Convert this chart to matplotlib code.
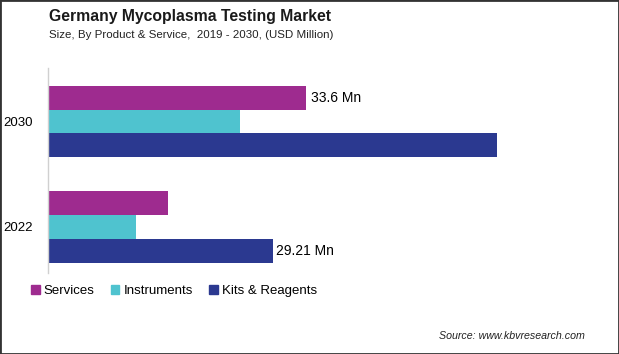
import matplotlib
matplotlib.use("Agg")
import matplotlib.pyplot as plt
from matplotlib.patches import Rectangle, Patch

plt.rcParams['font.family'] = ['Liberation Sans', 'DejaVu Sans']

years = ["2022", "2030"]
segments = ["Services", "Instruments", "Kits & Reagents"]
services = [15.6, 33.6]
instruments = [11.4, 25.0]
kits = [29.21, 58.4]
colors = ["#9E2B8F", "#4FC3CF", "#2B3990"]

W, H = 619, 354
fig = plt.figure(figsize=(W / 100, H / 100), dpi=100)

# axes placed in pixel coordinates (top-left origin)
ax_left, ax_right, ax_top, ax_bottom = 48, 600, 68, 273
ax = fig.add_axes([ax_left / W, 1 - ax_bottom / H,
                   (ax_right - ax_left) / W, (ax_bottom - ax_top) / H])

h = 0.2246
pos = [0, 1]
series = [services, instruments, kits]
offsets = [h, 0, -h]
for vals, off, c, name in zip(series, offsets, colors, segments):
    ax.barh([p + off for p in pos], vals, height=h, color=c, label=name)

ax.text(services[1] + 0.6, 1 + h, "33.6 Mn", va="center", ha="left", fontsize=10)
ax.text(kits[0] + 0.4, 0 - h, "29.21 Mn", va="center", ha="left", fontsize=10)

ax.set_xlim(0, (ax_right - ax_left) / 7.69)
ax.set_ylim(-0.436, 1.507)
ax.set_yticks(pos)
ax.set_yticklabels(years, fontsize=9.5)
ax.tick_params(axis="y", length=0, pad=11)
ax.set_xticks([])
for s in ["top", "right", "bottom"]:
    ax.spines[s].set_visible(False)
ax.spines["left"].set_color("#d0d0d0")
ax.spines["left"].set_linewidth(1)

fig.text(49 / W, 1 - 17 / H, "Germany Mycoplasma Testing Market", fontsize=11.3,
         fontweight="bold", va="center", ha="left", color="#1a1a1a")
fig.text(49 / W, 1 - 35 / H, "Size, By Product & Service,  2019 - 2030, (USD Million)",
         fontsize=8.25, va="center", ha="left", color="#222222")

handles = [Patch(color=c) for c in colors]
fig.legend(handles, segments, loc="center left", bbox_to_anchor=(31 / W, 1 - 291 / H),
           ncol=3, frameon=False, fontsize=9.5, handlelength=0.65, handleheight=0.65,
           handletextpad=0.3, columnspacing=1.25, borderpad=0, borderaxespad=0)

fig.text(585 / W, 1 - 336 / H, "Source: www.kbvresearch.com", fontsize=7.7,
         style="italic", va="center", ha="right", color="#222222")

fig.patches.append(Rectangle((0, 0), 1, 1, transform=fig.transFigure, fill=False,
                             edgecolor="#333333", linewidth=2))

fig.savefig("out.png", dpi=100)
